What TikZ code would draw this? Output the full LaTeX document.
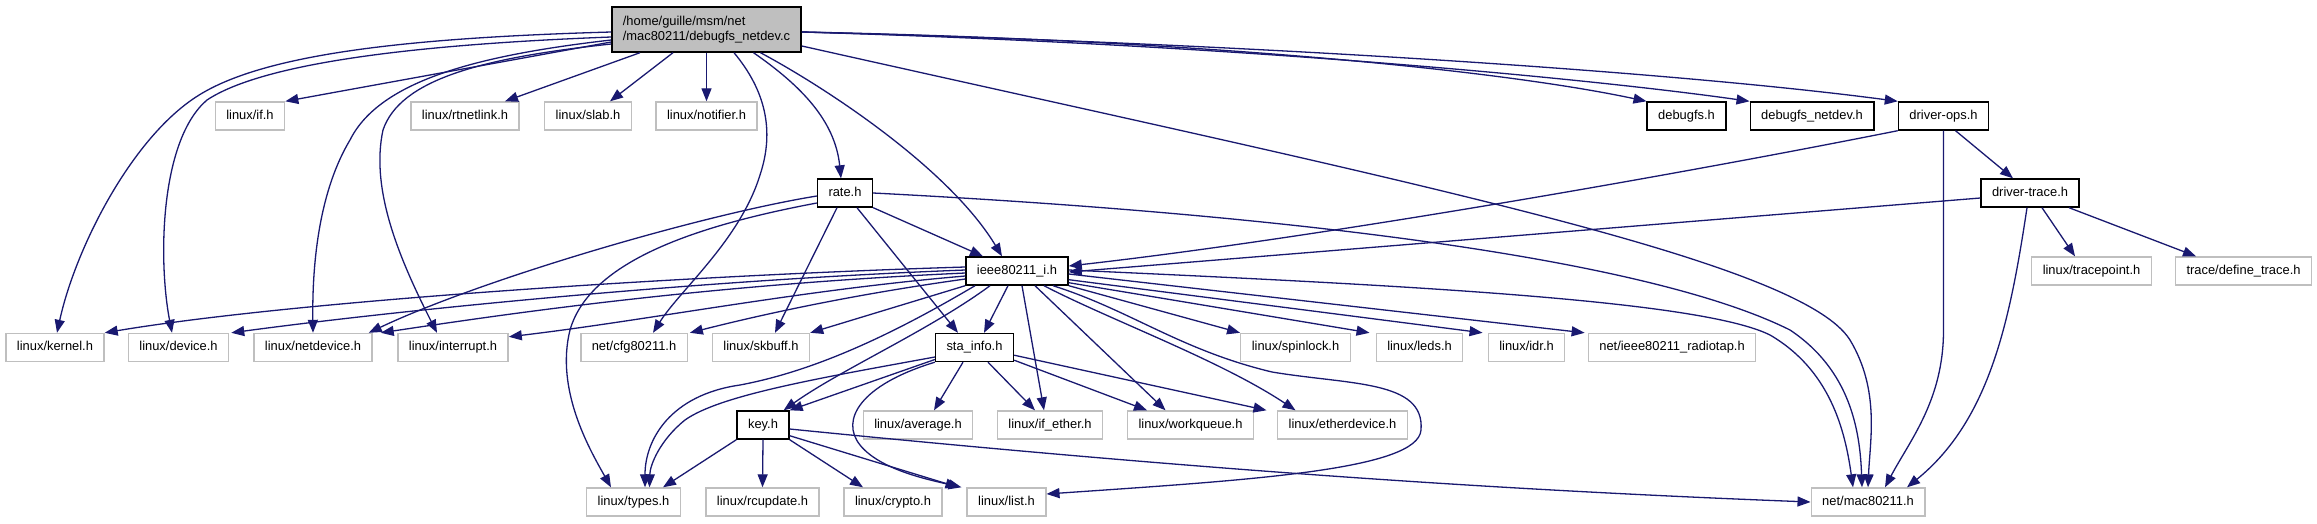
\documentclass[tikz,border=0pt]{standalone}
\usepackage{fontspec}
\setmainfont{Liberation Sans}
\usetikzlibrary{arrows.meta}
\definecolor{edgeblue}{HTML}{191970}
\definecolor{greyline}{HTML}{BFBFBF}
\definecolor{mainfill}{HTML}{BFBFBF}
\newcommand\nodefont{\fontsize{12.9}{15}\selectfont}
\tikzset{
  base/.style={rectangle, font=\nodefont, inner xsep=11pt, inner ysep=0pt,
    minimum height=28pt, text height=9.4pt, text depth=2.8pt, fill=white, line width=1.4pt},
  ext/.style={base, draw=greyline},
  doc/.style={base, draw=black},
  mainbox/.style={base, draw=black, fill=mainfill, align=left, minimum height=45pt,
    text height=, text depth=},
  edge/.style={draw=edgeblue, line width=1.3pt, -{Triangle[length=13pt,width=10pt]}},
}
\begin{document}
\begin{tikzpicture}[x=1pt,y=-1pt]
\fill[white] (0,0) rectangle (2317,523);
\useasboundingbox (0,0) rectangle (2317,523);
% row 0
\node[mainbox] (main) at (706.5,29.5) {/home/guille/msm/net\\/mac80211/debugfs\_netdev.c};
% row 1
\node[ext] (ifh) at (250,116) {linux/if.h};
\node[ext] (rtnetlink) at (465,116) {linux/rtnetlink.h};
\node[ext] (slab) at (588,116) {linux/slab.h};
\node[ext] (notifier) at (706.5,116) {linux/notifier.h};
\node[doc] (debugfs) at (1686.5,116) {debugfs.h};
\node[doc] (debugfsnetdev) at (1812,116) {debugfs\_netdev.h};
\node[doc] (driverops) at (1943.5,116) {driver-ops.h};
% row 2
\node[doc] (rate) at (845,193) {rate.h};
\node[doc] (drivertrace) at (2030,193) {driver-trace.h};
% row 3
\node[doc] (ieee) at (1017,271) {ieee80211\_i.h};
\node[ext] (tracepoint) at (2091.5,271) {linux/tracepoint.h};
\node[ext] (definetrace) at (2243.5,271) {trace/define\_trace.h};
% row 4
\node[ext] (kernel) at (55,347.5) {linux/kernel.h};
\node[ext] (device) at (178.5,347.5) {linux/device.h};
\node[ext] (netdevice) at (313,347.5) {linux/netdevice.h};
\node[ext] (interrupt) at (453,347.5) {linux/interrupt.h};
\node[ext] (cfg) at (634,347.5) {net/cfg80211.h};
\node[ext] (skbuff) at (761,347.5) {linux/skbuff.h};
\node[doc] (stainfo) at (974.5,347.5) {sta\_info.h};
\node[ext] (spinlock) at (1295.5,347.5) {linux/spinlock.h};
\node[ext] (leds) at (1419.5,347.5) {linux/leds.h};
\node[ext] (idr) at (1526.5,347.5) {linux/idr.h};
\node[ext] (radiotap) at (1672,347.5) {net/ieee80211\_radiotap.h};
% row 5
\node[doc] (key) at (763,425) {key.h};
\node[ext] (average) at (918,425) {linux/average.h};
\node[ext] (ifether) at (1050,425) {linux/if\_ether.h};
\node[ext] (workqueue) at (1190.5,425) {linux/workqueue.h};
\node[ext] (etherdevice) at (1342.5,425) {linux/etherdevice.h};
% row 6
\node[ext] (types) at (633.5,502) {linux/types.h};
\node[ext] (rcupdate) at (762.5,502) {linux/rcupdate.h};
\node[ext] (crypto) at (893,502) {linux/crypto.h};
\node[ext] (list) at (1006.5,502) {linux/list.h};
\node[ext] (mac) at (1868,502) {net/mac80211.h};

% ---- edges from main
\draw[edge] ([yshift=-2.5pt]main.west) .. controls (400,38) and (260,55) .. (196,97) .. controls (130,140) and (75,250) .. ([xshift=2pt]kernel.north);
\draw[edge] ([yshift=-7.5pt]main.west) .. controls (400,45) and (260,65) .. (207,100) .. controls (160,140) and (158,260) .. ([xshift=-6.5pt]device.north);
\draw[edge] ([yshift=-12.5pt]main.west) -- (ifh.north east);
\draw[edge] ([yshift=-10.5pt]main.west) .. controls (480,55) and (380,80) .. (350,140) .. controls (320,190) and (312,260) .. (netdevice.north);
\draw[edge] ([yshift=-14.5pt]main.west) .. controls (480,58) and (400,80) .. (383,130) .. controls (370,190) and (400,260) .. ([xshift=-16pt]interrupt.north);
\draw[edge] ([xshift=-66.5pt]main.south) -- ([xshift=40pt]rtnetlink.north);
\draw[edge] ([xshift=-33.5pt]main.south) -- ([xshift=22pt]slab.north);
\draw[edge] (main.south) -- (notifier.north);
\draw[edge] ([xshift=27.5pt]main.south) .. controls (765,90) and (775,130) .. (760,175) .. controls (740,240) and (680,290) .. ([xshift=19pt]cfg.north);
\draw[edge] ([xshift=47pt]main.south) .. controls (800,85) and (835,120) .. ([xshift=-4pt]rate.north);
\draw[edge] ([xshift=54pt]main.south) .. controls (830,90) and (950,170) .. ([xshift=-15pt]ieee.north);
\draw[edge] ([yshift=-16.5pt]main.east) .. controls (1400,180) and (1800,260) .. (1850,340) .. controls (1880,390) and (1870,440) .. (mac.north);
\draw[edge] ([yshift=-2.5pt]main.east) .. controls (1200,40) and (1500,70) .. (debugfs.north west);
\draw[edge] ([yshift=-2.5pt]main.east) .. controls (1250,45) and (1600,80) .. (debugfsnetdev.north west);
\draw[edge] ([yshift=-2.5pt]main.east) .. controls (1300,45) and (1700,75) .. (driverops.north west);

% ---- driver-ops / driver-trace
\draw[edge] (driverops.south west) .. controls (1650,180) and (1300,240) .. ([yshift=5pt]ieee.east);
\draw[edge] ([xshift=12pt]driverops.south) -- ([xshift=-17pt]drivertrace.north);
\draw[edge] (driverops.south) -- (1943.5,330) .. controls (1943.5,400) and (1910,440) .. ([xshift=17pt]mac.north);
\draw[edge] ([yshift=-5pt]drivertrace.west) -- ([yshift=-1pt]ieee.east);
\draw[edge] ([xshift=12pt]drivertrace.south) -- ([xshift=-16.5pt]tracepoint.north);
\draw[edge] ([xshift=39pt]drivertrace.south) -- ([xshift=-47.5pt]definetrace.north);
\draw[edge] ([xshift=-3pt]drivertrace.south) .. controls (2010,320) and (1990,420) .. ([xshift=39pt]mac.north);

% ---- rate.h
\draw[edge] (rate.south east) -- ([xshift=-34pt]ieee.north);
\draw[edge] ([xshift=12pt]rate.south) -- ([xshift=-16.5pt]stainfo.north);
\draw[edge] ([xshift=-8pt]rate.south) -- ([xshift=14pt]skbuff.north);
\draw[edge] ([yshift=-3pt]rate.west) .. controls (700,215) and (480,280) .. ([xshift=-4pt]netdevice.north east);
\draw[edge] ([yshift=-10pt]rate.west) .. controls (700,225) and (590,260) .. (570,330) .. controls (555,390) and (590,450) .. ([xshift=-22.5pt]types.north);
\draw[edge] (rate.east) .. controls (1300,215) and (1650,260) .. (1790,330) .. controls (1850,370) and (1860,430) .. ([xshift=-6pt]mac.north);

% ---- ieee80211_i.h
\draw[edge] ([yshift=4pt]ieee.west) .. controls (700,275) and (300,300) .. (kernel.north east);
\draw[edge] ([yshift=1pt]ieee.west) .. controls (700,280) and (400,310) .. ([xshift=2pt]device.north east);
\draw[edge] ([yshift=-2pt]ieee.west) .. controls (700,285) and (500,315) .. ([xshift=8pt]netdevice.north east);
\draw[edge] ([yshift=-5pt]ieee.west) .. controls (800,290) and (650,320) .. ([yshift=-4pt]interrupt.north east);
\draw[edge] ([yshift=-8pt]ieee.west) .. controls (850,295) and (760,315) .. ([xshift=2pt]cfg.north east);
\draw[edge] (ieee.south west) -- (skbuff.north east);
\draw[edge] ([xshift=-9pt]ieee.south) -- ([xshift=9.5pt]stainfo.north);
\draw[edge] ([xshift=-27pt]ieee.south) .. controls (930,330) and (840,370) .. ([xshift=-6pt]key.north east);
\draw[edge] ([xshift=-42pt]ieee.south) .. controls (900,330) and (820,370) .. (740,385) .. controls (670,395) and (645,440) .. ([xshift=11.5pt]types.north);
\draw[edge] ([xshift=5pt]ieee.south) -- ([xshift=-6pt]ifether.north);
\draw[edge] ([xshift=18pt]ieee.south) -- ([xshift=-25pt]workqueue.north);
\draw[edge] ([xshift=27pt]ieee.south) .. controls (1110,320) and (1220,360) .. ([xshift=-47pt]etherdevice.north);
\draw[edge] ([xshift=36pt]ieee.south) .. controls (1130,310) and (1180,350) .. (1272,372) .. controls (1350,385) and (1425,380) .. (1421,430) .. controls (1418,470) and (1250,480) .. ([yshift=8pt]list.east);
\draw[edge] (ieee.south east) -- (spinlock.north west);
\draw[edge] ([yshift=3pt]ieee.south east) -- ([xshift=-6pt]leds.north west);
\draw[edge] ([yshift=6pt]ieee.south east) -- ([xshift=-5pt]idr.north west);
\draw[edge] ([yshift=-3pt]ieee.east) -- ([xshift=-3pt]radiotap.north west);
\draw[edge] ([yshift=1pt]ieee.east) .. controls (1400,285) and (1700,300) .. (1770,335) .. controls (1830,370) and (1845,430) .. ([xshift=-15pt]mac.north);

% ---- sta_info.h
\draw[edge] ([yshift=-9.5pt]stainfo.west) .. controls (820,378) and (720,395) .. (685,420) .. controls (660,440) and (650,465) .. ([xshift=16pt]types.north);
\draw[edge] ([yshift=-12pt]stainfo.west) -- (key.north east);
\draw[edge] (stainfo.south west) .. controls (860,385) and (840,420) .. (860,445) .. controls (880,470) and (930,480) .. ([xshift=-5pt]list.north west);
\draw[edge] ([xshift=-11.5pt]stainfo.south) -- ([xshift=16pt]average.north);
\draw[edge] ([xshift=13.5pt]stainfo.south) -- ([xshift=-15pt]ifether.north);
\draw[edge] ([yshift=2pt]stainfo.south east) -- ([xshift=-43.5pt]workqueue.north);
\draw[edge] ([yshift=7pt]stainfo.south east) -- ([xshift=-76pt]etherdevice.north);

% ---- key.h
\draw[edge] (key.south west) -- ([xshift=29.5pt]types.north);
\draw[edge] (key.south) -- (rcupdate.north);
\draw[edge] (key.south east) -- ([xshift=-30pt]crypto.north);
\draw[edge] ([yshift=4pt]key.south east) -- ([xshift=-8pt]list.north west);
\draw[edge] ([yshift=-4pt]key.east) .. controls (1200,470) and (1500,490) .. (mac.west);
\end{tikzpicture}
\end{document}
